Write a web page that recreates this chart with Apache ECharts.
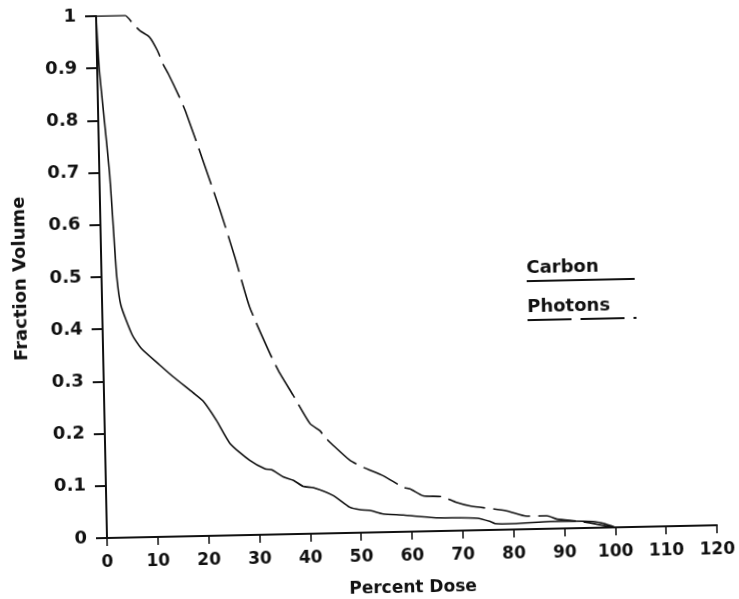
<!DOCTYPE html>
<html>
<head>
<meta charset="utf-8">
<script src="https://cdn.jsdelivr.net/npm/echarts@6/dist/echarts.min.js"></script>
<style>
  html, body { margin: 0; padding: 0; background: #fff; width: 739px; height: 599px; overflow: hidden; }
  /* the scanned original is tilted a little, so the chart box is turned to match */
  #chart { width: 739px; height: 599px; transform-origin: 107px 538px; transform: rotate(-1.2deg); }
</style>
</head>
<body>
<div id="chart"></div>
<script>
// Carbon (solid)
const carbonDose = [0, 0.4, 1.2, 2.0, 2.5, 3.0, 3.7, 5.8, 7.5, 11.1, 13.7, 17.5, 19.5, 22.0, 24.6, 28.4,
    31.4, 32.7, 34.9, 36.9, 38.8, 40.8, 44.7, 47.9, 49.9, 51.9, 54.4, 58.4, 64.3, 72.9, 75.5, 76.4,
    80, 87.3, 95.7, 97.7, 100];
const carbonFraction = [1, 0.9, 0.8, 0.7, 0.6, 0.5, 0.445, 0.388, 0.362, 0.329, 0.306, 0.275, 0.258, 0.221, 0.176, 0.143,
    0.126, 0.124, 0.110, 0.103, 0.091, 0.088, 0.072, 0.049, 0.044, 0.042, 0.035, 0.032, 0.026, 0.023, 0.016, 0.012,
    0.011, 0.014, 0.012, 0.008, 0];

// Photons (dashed)
const photonDose = [0, 5.7, 7.3, 8.6, 10.4, 11.9, 13.0, 14.0, 15.9, 17.2, 20.4, 23.5, 26.3, 29.0, 32.8, 34.7,
    37.2, 40.4, 42.3, 43.3, 44.6, 48.1, 50.7, 54.6, 58.5, 59.8, 62.4, 66.0, 68.9, 71.5, 78.7, 82.7,
    86.6, 88.6, 93, 100];
const photonFraction = [1, 1, 0.983, 0.970, 0.958, 0.932, 0.905, 0.886, 0.845, 0.814, 0.72, 0.626, 0.533, 0.437, 0.347, 0.308,
    0.266, 0.211, 0.197, 0.184, 0.171, 0.139, 0.125, 0.108, 0.085, 0.082, 0.068, 0.066, 0.054, 0.047, 0.036, 0.025,
    0.025, 0.018, 0.013, 0];

const xTicks = [0, 120, 10];   // min, max, step
const yTicks = [0, 1, 0.1];

const zip = (xs, ys) => xs.map((x, i) => [x, ys[i]]);

const ink = '#111';
const font = 'DejaVu Sans';

const chart = echarts.init(document.getElementById('chart'), null, {renderer: 'canvas'});

chart.setOption({
    animation: false,
    backgroundColor: '#fff',
    grid: {left: 107, right: 22, top: 16, bottom: 61, outerBoundsMode: 'none'},
    xAxis: {
        type: 'value',
        min: xTicks[0], max: xTicks[1], interval: xTicks[2],
        name: 'Percent Dose',
        nameLocation: 'middle',
        nameGap: 48,
        nameTextStyle: {fontFamily: font, fontWeight: 'bold', fontSize: 17, color: ink},
        axisLine: {lineStyle: {color: ink, width: 2}},
        axisTick: {length: 8, lineStyle: {color: ink, width: 1.5}},
        axisLabel: {margin: 16, fontFamily: font, fontWeight: 'bold', fontSize: 17, color: ink},
        splitLine: {show: false}
    },
    yAxis: {
        type: 'value',
        min: yTicks[0], max: yTicks[1], interval: yTicks[2],
        name: 'Fraction Volume',
        nameLocation: 'middle',
        nameGap: 72,
        nameTextStyle: {fontFamily: font, fontWeight: 'bold', fontSize: 18, color: ink},
        axisLine: {lineStyle: {color: ink, width: 2}},
        axisTick: {length: 11, lineStyle: {color: ink, width: 2}},
        axisLabel: {margin: 20, fontFamily: font, fontWeight: 'bold', fontSize: 18, color: ink},
        splitLine: {show: false}
    },
    series: [
        {
            name: 'Carbon',
            type: 'line',
            data: zip(carbonDose, carbonFraction),
            showSymbol: false,
            smooth: 0.2,
            lineStyle: {color: ink, width: 1.6}
        },
        {
            name: 'Photons',
            type: 'line',
            data: zip(photonDose, photonFraction),
            showSymbol: false,
            smooth: 0.2,
            lineStyle: {color: ink, width: 1.6, type: [38, 8]}
        }
    ],
    graphic: [
        {type: 'text', left: 532, top: 268,
         style: {text: 'Carbon', fontFamily: font, fontWeight: 'bold', fontSize: 18, fill: ink}},
        {type: 'line', shape: {x1: 532, y1: 290, x2: 640, y2: 290},
         style: {stroke: ink, lineWidth: 2}},
        {type: 'text', left: 532, top: 307,
         style: {text: 'Photons', fontFamily: font, fontWeight: 'bold', fontSize: 18, fill: ink}},
        {type: 'line', shape: {x1: 532, y1: 329, x2: 641, y2: 329},
         style: {stroke: ink, lineWidth: 2, lineDash: [44, 9]}}
    ]
});
</script>
</body>
</html>
